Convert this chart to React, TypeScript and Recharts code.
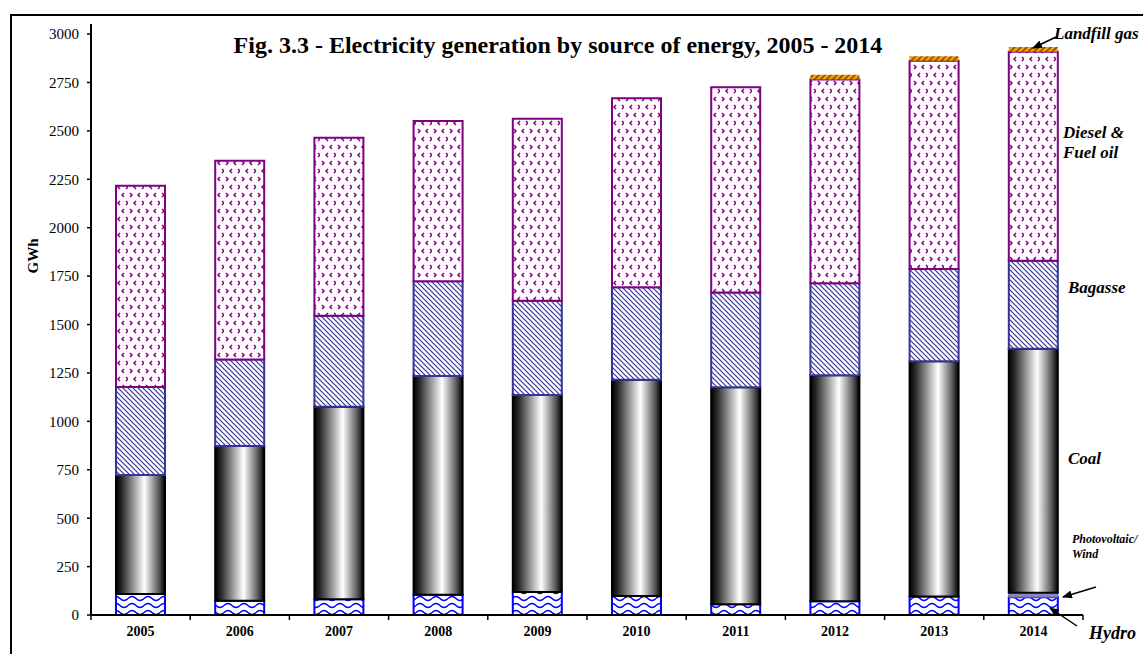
import React from "react";
import { Bar, BarChart, XAxis, YAxis } from "recharts";

// values (GWh), stacked from the bottom up
const years = ["2005", "2006", "2007", "2008", "2009", "2010", "2011", "2012", "2013", "2014"];
const hydro = [108, 74, 81, 105, 119, 98, 55, 71, 95, 92];
const photovoltaicWind = [0, 0, 0, 0, 0, 0, 0, 0, 0, 23];
const coal = [615, 799, 995, 1129, 1017, 1117, 1121, 1167, 1216, 1260];
const bagasse = [454, 447, 469, 490, 487, 478, 490, 475, 476, 454];
const dieselFuelOil = [1040, 1026, 920, 827, 940, 975, 1059, 1053, 1075, 1080];
const landfillGas = [0, 0, 0, 0, 0, 0, 0, 24, 24, 24];
const yTicks = [0, 250, 500, 750, 1000, 1250, 1500, 1750, 2000, 2250, 2500, 2750, 3000];

const data = years.map((year, i) => ({
  year,
  hydro: hydro[i],
  pv: photovoltaicWind[i],
  coal: coal[i],
  bagasse: bagasse[i],
  diesel: dieselFuelOil[i],
  landfill: landfillGas[i],
}));

const W = 1143;
const H = 654;
const PLOT_LEFT = 91;
const PLOT_RIGHT = 1083;
const halfBand = (PLOT_RIGHT - PLOT_LEFT) / years.length / 2;
const FONT = "'Liberation Serif', 'Times New Roman', serif";

// category labels + tick marks sitting on the category boundaries
function YearTick(props: any) {
  const { x, y, payload, index } = props;
  return (
    <g>
      <line x1={x - halfBand} x2={x - halfBand} y1={y} y2={y + 5} stroke="#000" strokeWidth={1.5} />
      {index === years.length - 1 && (
        <line x1={x + halfBand} x2={x + halfBand} y1={y} y2={y + 5} stroke="#000" strokeWidth={1.5} />
      )}
      <text
        x={x}
        y={y + 11}
        dy="0.71em"
        textAnchor="middle"
        fontFamily={FONT}
        fontWeight="bold"
        fontSize={14}
        fill="#000"
      >
        {payload.value}
      </text>
    </g>
  );
}

const Patterns = () => (
  <svg width={1} height={1} style={{ position: "absolute", left: 0, top: 0 }}>
    <defs>
      <pattern id="hydroWave" width={16} height={7} patternUnits="userSpaceOnUse">
        <rect width={16} height={7} fill="#fff" />
        <path d="M0,3.5 Q4,-0.5 8,3.5 T16,3.5" fill="none" stroke="#0000ff" strokeWidth={1.5} />
      </pattern>
      <pattern id="pvDots" width={4} height={4} patternUnits="userSpaceOnUse">
        <rect width={4} height={4} fill="#8a8ab8" />
        <rect x={1} y={1} width={1} height={1} fill="#d8d8f0" />
      </pattern>
      <linearGradient id="coalGrad" x1="0" y1="0" x2="1" y2="0">
        <stop offset="0%" stopColor="#000" />
        <stop offset="12%" stopColor="#2a2a2a" />
        <stop offset="58%" stopColor="#ffffff" />
        <stop offset="88%" stopColor="#555" />
        <stop offset="100%" stopColor="#000" />
      </linearGradient>
      <pattern id="bagasseHatch" width={5} height={5} patternUnits="userSpaceOnUse">
        <rect width={5} height={5} fill="#fff" />
        <path d="M-1,-1 L6,6 M-1,4 L1,6 M4,-1 L6,1" stroke="#333399" strokeWidth={1.2} />
      </pattern>
      <pattern id="dieselMarks" width={16} height={16} patternUnits="userSpaceOnUse">
        <rect width={16} height={16} fill="#fff" />
        <path d="M2,1 L4,3 L2,5" fill="none" stroke="#800080" strokeWidth={1.5} />
        <path d="M12,1 L10,3 L12,5" fill="none" stroke="#800080" strokeWidth={1.5} />
        <path d="M8,9 L6,11 L8,13" fill="none" stroke="#800080" strokeWidth={1.5} />
        <path d="M14,9 L16,11 L14,13" fill="none" stroke="#800080" strokeWidth={1.5} />
      </pattern>
      <pattern id="landfillStripes" width={6} height={6} patternUnits="userSpaceOnUse">
        <rect width={6} height={6} fill="#f0a000" />
        <path d="M-1,7 L7,-1 M-1,1 L1,-1 M5,7 L7,5" stroke="#7a4800" strokeWidth={1.4} />
      </pattern>
      <marker id="arrowHead" markerWidth={10} markerHeight={8} refX={9} refY={4} orient="auto" markerUnits="userSpaceOnUse">
        <path d="M0,0 L10,4 L0,8 Z" fill="#000" />
      </marker>
    </defs>
  </svg>
);

export default function App() {
  const labelStyle = {
    fontFamily: FONT,
    fontWeight: "bold" as const,
    fontStyle: "italic" as const,
    fill: "#000",
  };

  return (
    <div
      style={{
        position: "relative",
        width: W,
        height: H,
        overflow: "hidden",
        background: "#fff",
        fontFamily: FONT,
      }}
    >
      <style>{"body{margin:0}"}</style>
      <Patterns />

      {/* outer frame, cut off at the right and bottom like the original */}
      <div
        style={{
          position: "absolute",
          left: 10,
          top: 14,
          width: 1200,
          height: 700,
          border: "2px solid #000",
        }}
      />

      <div style={{ position: "absolute", left: 0, top: 0 }}>
        {/* note: a "50%" string gap drew no bars here, so the gap is in px */}
        <BarChart
          width={W}
          height={H}
          data={data}
          margin={{ top: 24, right: W - PLOT_RIGHT, left: 31, bottom: 9 }}
          barCategoryGap={25}
        >
          <XAxis
            dataKey="year"
            height={30}
            axisLine={{ stroke: "#000", strokeWidth: 2 }}
            tickLine={false}
            tickSize={0}
            tickMargin={0}
            interval={0}
            tick={<YearTick />}
          />
          <YAxis
            width={60}
            domain={[0, 3052]}
            ticks={yTicks}
            axisLine={{ stroke: "#000", strokeWidth: 2 }}
            tickLine={{ stroke: "#000", strokeWidth: 1.5 }}
            tickSize={4}
            tickMargin={8}
            tick={{ fontFamily: FONT, fontSize: 15, fill: "#000" }}
          />
          <Bar dataKey="hydro" stackId="a" fill="url(#hydroWave)" stroke="#0000ff" strokeWidth={2} isAnimationActive={false} />
          <Bar dataKey="pv" stackId="a" fill="url(#pvDots)" stroke="#6a6a9a" strokeWidth={1} isAnimationActive={false} />
          <Bar dataKey="coal" stackId="a" fill="url(#coalGrad)" stroke="#000" strokeWidth={2} isAnimationActive={false} />
          <Bar dataKey="bagasse" stackId="a" fill="url(#bagasseHatch)" stroke="#333399" strokeWidth={2} isAnimationActive={false} />
          <Bar dataKey="diesel" stackId="a" fill="url(#dieselMarks)" stroke="#800080" strokeWidth={2} isAnimationActive={false} />
          <Bar dataKey="landfill" stackId="a" fill="url(#landfillStripes)" stroke="none" isAnimationActive={false} />
        </BarChart>
      </div>

      {/* title, axis name and the labels on the right */}
      <svg
        width={W}
        height={H}
        style={{ position: "absolute", left: 0, top: 0, pointerEvents: "none" }}
      >
        <text x={558} y={53} textAnchor="middle" fontFamily={FONT} fontWeight="bold" fontSize={24} fill="#000">
          Fig. 3.3 - Electricity generation by source of energy, 2005 - 2014
        </text>
        <text
          x={0}
          y={0}
          transform="translate(38,256) rotate(-90)"
          textAnchor="middle"
          fontFamily={FONT}
          fontWeight="bold"
          fontSize={15}
          fill="#000"
        >
          GWh
        </text>

        <text x={1054} y={39} fontSize={17} style={labelStyle}>Landfill gas</text>
        <line x1={1056} y1={37} x2={1033} y2={48} stroke="#000" strokeWidth={1.5} markerEnd="url(#arrowHead)" />

        <text x={1063} y={138} fontSize={17} style={labelStyle}>Diesel &amp;</text>
        <text x={1063} y={158} fontSize={17} style={labelStyle}>Fuel oil</text>

        <text x={1068} y={293} fontSize={17} style={labelStyle}>Bagasse</text>

        <text x={1068} y={464} fontSize={17} style={labelStyle}>Coal</text>

        <text x={1072} y={543} fontSize={12} style={labelStyle}>Photovoltaic/</text>
        <text x={1072} y={558} fontSize={12} style={labelStyle}>Wind</text>
        <line x1={1096} y1={587} x2={1063} y2={597} stroke="#000" strokeWidth={1.5} markerEnd="url(#arrowHead)" />

        <line x1={1077} y1={626} x2={1050} y2={608} stroke="#000" strokeWidth={1.5} markerEnd="url(#arrowHead)" />
        <text x={1089} y={639} fontSize={18} style={labelStyle}>Hydro</text>
      </svg>
    </div>
  );
}
